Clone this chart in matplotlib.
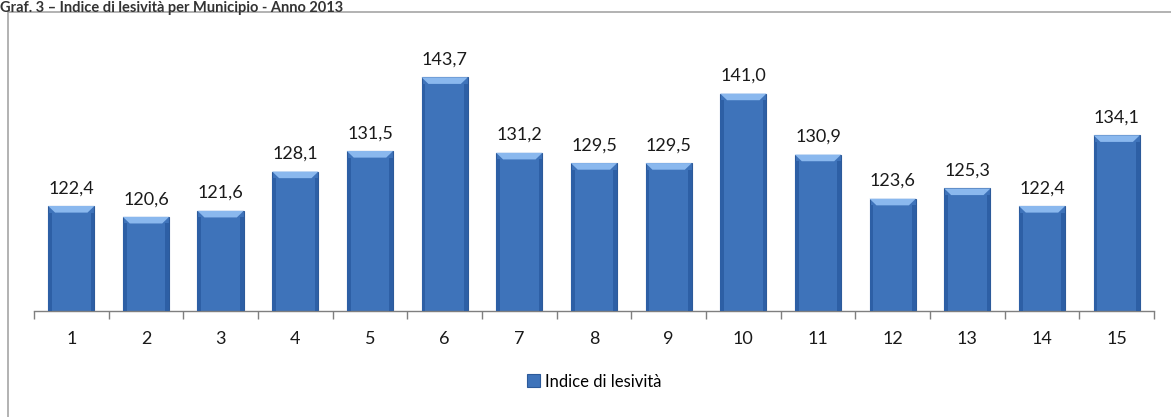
import matplotlib.pyplot as plt
from matplotlib.patches import Rectangle, Polygon

plt.rcParams['font.family'] = ['Lato', 'DejaVu Sans']

municipi = ['1', '2', '3', '4', '5', '6', '7', '8', '9', '10', '11', '12', '13', '14', '15']
indice = [122.4, 120.6, 121.6, 128.1, 131.5, 143.7, 131.2, 129.5, 129.5, 141.0,
          130.9, 123.6, 125.3, 122.4, 134.1]
serie = 'Indice di lesività'
titolo = 'Graf. 3 – Indice di lesività per Municipio - Anno 2013'

fig = plt.figure(figsize=(11.71, 4.17), dpi=100)
ax = fig.add_axes([0.029, 0.254, 0.9565, 0.652])

# outer frame of the chart area
fig.patches.append(Rectangle((8 / 1171, -0.01), 1.0, (405 / 417) + 0.01,
                             transform=fig.transFigure, fill=False,
                             edgecolor='#a6a6a6', linewidth=1.2))

x = list(range(len(municipi)))
ymin = 105
bars = ax.bar(x, [v - ymin for v in indice], bottom=ymin, width=0.62,
              color='#3e73ba', edgecolor='#2c5a9a', linewidth=0.8,
              label=serie, zorder=2)

# bevel highlight at top of each bar
for b in bars:
    x0 = b.get_x()
    w = b.get_width()
    top = b.get_y() + b.get_height()
    d = 1.1
    ax.add_patch(Polygon([(x0, top), (x0 + w, top), (x0 + w * 0.85, top - d),
                          (x0 + w * 0.15, top - d)], closed=True,
                         facecolor='#8ab8ee', edgecolor='none', zorder=3))
    ax.add_patch(Rectangle((x0, ymin), w * 0.08, top - ymin - d,
                           facecolor='#2d5fa5', edgecolor='none', zorder=3))
    ax.add_patch(Rectangle((x0 + w * 0.92, ymin), w * 0.08, top - ymin - d,
                           facecolor='#2d5fa5', edgecolor='none', zorder=3))

for xi, v in zip(x, indice):
    ax.text(xi, v + 1.6, f'{v:.1f}'.replace('.', ','), ha='center', va='bottom',
            fontsize=13, color='#1a1a1a')

ax.set_xlim(-0.5, len(municipi) - 0.5)
ax.set_ylim(ymin, 150)
ax.set_xticks([i - 0.5 for i in range(len(municipi) + 1)], minor=False)
ax.set_xticklabels([])
ax.set_xticks(x, minor=True)
ax.set_xticklabels(municipi, minor=True, fontsize=13, color='#1a1a1a')
ax.tick_params(axis='x', which='major', length=6, color='#7f7f7f', width=1)
ax.tick_params(axis='x', which='minor', length=0, pad=14)
ax.set_yticks([])
for s in ['top', 'right', 'left']:
    ax.spines[s].set_visible(False)
ax.spines['bottom'].set_color('#7f7f7f')
ax.spines['bottom'].set_linewidth(1)

ax.legend(loc='upper center', bbox_to_anchor=(0.5, -0.175), frameon=False,
          fontsize=12, handlelength=0.8, handleheight=0.8, handletextpad=0.3)

fig.text(0.0, 1 - 1 / 417, titolo, ha='left', va='top', fontsize=10.5,
         fontweight='bold', color='#333333')

fig.savefig('out.png', dpi=100)
